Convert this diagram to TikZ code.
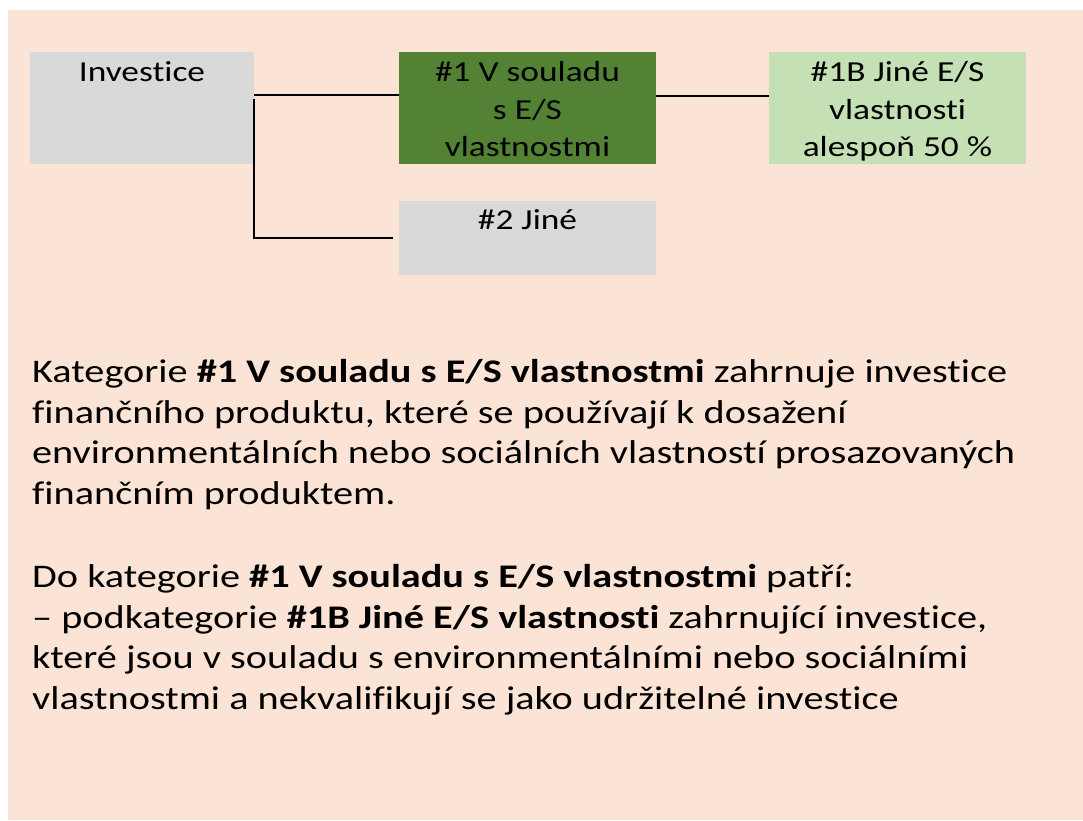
\documentclass[tikz,border=0pt]{standalone}
\usepackage{fontspec}
\setmainfont{Carlito}[FakeStretch=1.22, Ligatures=NoCommon]
\definecolor{peach}{HTML}{FBE4D6}
\definecolor{greyb}{HTML}{D9D9D9}
\definecolor{darkgreen}{HTML}{548235}
\definecolor{lightgreen}{HTML}{C5E0B4}
\tikzset{
  box/.style={rectangle, inner sep=0pt, draw=none},
  boxtxt/.style={inner sep=0pt, align=center, text=black, font=\fontsize{29}{37.5}\selectfont},
  para/.style={inner sep=0pt, align=left, text=black, font=\fontsize{33}{40.5}\selectfont},
  conn/.style={draw=black, line width=2.2pt}
}
\begin{document}
\begin{tikzpicture}[x=1pt,y=-1pt]
\useasboundingbox (0,0) rectangle (1083,820);
\fill[peach] (8,10) rectangle (1083,820);
% boxes
\node[box, fill=greyb, minimum width=224, minimum height=112] (inv) at (142,108) {};
\node[box, fill=darkgreen, minimum width=257, minimum height=112] (c1) at (527.5,108) {};
\node[box, fill=lightgreen, minimum width=257, minimum height=112] (b) at (897.5,108) {};
\node[box, fill=greyb, minimum width=257, minimum height=74] (j) at (527.5,238) {};
% box texts (base anchor = baseline of the last line)
\node[boxtxt, anchor=base] (invt) at ([yshift=-30pt]inv.north) {Investice};
\node[boxtxt, anchor=base] (c1t) at ([yshift=-105pt]c1.north) {\#1 V souladu\\s E/S\\vlastnostmi};
\node[boxtxt, anchor=base] (bt) at ([yshift=-105pt]b.north) {\#1B Jiné E/S\\vlastnosti\\alespoň 50 \%};
\node[boxtxt, anchor=base] (jt) at ([yshift=-29pt]j.north) {\#2 Jiné};
% connectors
\draw[conn] ([yshift=-43pt]inv.north east) -- ([yshift=-43pt]c1.north west);
\draw[conn] ([yshift=-47pt]inv.north east) |- ([xshift=-6pt]j.west);
\draw[conn] ([yshift=-44pt]c1.north east) -- ([yshift=-44pt]b.north west);
% paragraphs (base anchor = baseline of the last line)
\node[para, anchor=base west] (p1) at (32,504) {Kategorie \textbf{\#1 V souladu s E/S vlastnostmi} zahrnuje investice\\finančního produktu, které se používají k dosažení\\environmentálních nebo sociálních vlastností prosazovaných\\finančním produktem.};
\node[para, anchor=base west] (p2) at (32,709) {Do kategorie \textbf{\#1 V souladu s E/S vlastnostmi} patří:\\– podkategorie \textbf{\#1B Jiné E/S vlastnosti} zahrnující investice,\\které jsou v souladu s environmentálními nebo sociálními\\vlastnostmi a nekvalifikují se jako udržitelné investice};
\end{tikzpicture}
\end{document}
